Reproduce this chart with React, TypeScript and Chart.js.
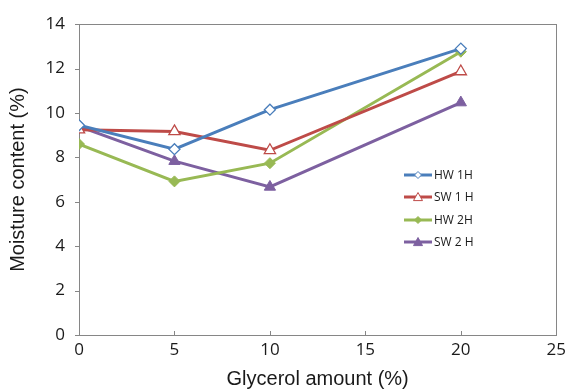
import React, { useEffect, useRef } from "react";
import { Chart, registerables } from "chart.js";

Chart.register(...registerables);

const glycerol = [0, 5, 10, 20];
const hw1h = [9.45, 8.37, 10.15, 12.9];
const sw1h = [9.25, 9.17, 8.32, 11.87];
const hw2h = [8.6, 6.92, 7.74, 12.76];
const sw2h = [9.4, 7.83, 6.67, 10.47];
const xTicks = [0, 5, 10, 15, 20, 25];
const yTicks = [0, 2, 4, 6, 8, 10, 12, 14];

const seriesNames = ["HW 1H", "SW 1 H", "HW 2H", "SW 2 H"];
const colors = ["#4A7EBB", "#BE4B48", "#98B954", "#7D60A0"];

const AXIS = "#868686";
const TICK_FONT = "'Open Sans', 'Noto Sans', sans-serif";
const TITLE_FONT = "'Liberation Sans', Arial, sans-serif";

const framePlugin = {
  id: "frame",
  beforeDatasetsDraw(chart: any) {
    const { ctx, chartArea } = chart;
    const xs = chart.scales.x;
    const ys = chart.scales.y;
    ctx.save();
    ctx.strokeStyle = AXIS;
    ctx.lineWidth = 1;
    ctx.strokeRect(
      Math.round(chartArea.left) + 0.5,
      Math.round(chartArea.top) + 0.5,
      Math.round(chartArea.right - chartArea.left),
      Math.round(chartArea.bottom - chartArea.top)
    );
    ctx.beginPath();
    yTicks.forEach((v) => {
      const y = Math.round(ys.getPixelForValue(v)) + 0.5;
      ctx.moveTo(chartArea.left - 4, y);
      ctx.lineTo(chartArea.left, y);
    });
    xTicks.forEach((v) => {
      const x = Math.round(xs.getPixelForValue(v)) + 0.5;
      ctx.moveTo(x, chartArea.bottom);
      ctx.lineTo(x, chartArea.bottom - 4);
    });
    ctx.stroke();
    ctx.restore();
  },
};

const legendPlugin = {
  id: "customLegend",
  afterDatasetsDraw(chart: any) {
    const { ctx } = chart;
    const x0 = 404;
    const rows = [175, 197, 220, 242];
    ctx.save();
    chart.data.datasets.forEach((ds: any, i: number) => {
      const y = rows[i];
      ctx.strokeStyle = ds.borderColor;
      ctx.lineWidth = 3;
      ctx.beginPath();
      ctx.moveTo(x0, y);
      ctx.lineTo(x0 + 28, y);
      ctx.stroke();
      const cx = x0 + 14;
      ctx.lineWidth = 1;
      ctx.fillStyle = ds.pointBackgroundColor;
      ctx.strokeStyle = ds.borderColor;
      ctx.beginPath();
      if (ds.pointStyle === "rectRot") {
        const r = 3.5;
        ctx.moveTo(cx, y - r);
        ctx.lineTo(cx + r, y);
        ctx.lineTo(cx, y + r);
        ctx.lineTo(cx - r, y);
      } else {
        const r = 4.5;
        ctx.moveTo(cx, y - r);
        ctx.lineTo(cx + r, y + r * 0.8);
        ctx.lineTo(cx - r, y + r * 0.8);
      }
      ctx.closePath();
      ctx.fill();
      ctx.stroke();
      ctx.fillStyle = "#1a1a1a";
      ctx.font = `12px ${TICK_FONT}`;
      ctx.textBaseline = "middle";
      ctx.textAlign = "left";
      ctx.fillText(ds.label, x0 + 30, y + 1);
    });
    ctx.restore();
  },
};

export default function App() {
  const ref = useRef<HTMLCanvasElement>(null);
  useEffect(() => {
    document.body.style.margin = "0";
    const make = (i: number, vals: number[], style: string, filled: boolean) => ({
      label: seriesNames[i],
      data: glycerol.map((g, k) => ({ x: g, y: vals[k] })),
      borderColor: colors[i],
      backgroundColor: colors[i],
      pointBackgroundColor: filled ? colors[i] : "#ffffff",
      pointBorderColor: colors[i],
      pointBorderWidth: filled ? 1 : 1.3,
      pointStyle: style,
      pointRadius: style === "triangle" ? 6.5 : 5.5,
      borderWidth: 3,
      tension: 0,
    });
    const chart = new Chart(ref.current as HTMLCanvasElement, {
      type: "line",
      data: {
        datasets: [
          make(0, hw1h, "rectRot", false),
          make(1, sw1h, "triangle", false),
          make(2, hw2h, "rectRot", true),
          make(3, sw2h, "triangle", true),
        ],
      },
      options: {
        animation: false,
        responsive: false,
        devicePixelRatio: 1,
        layout: { padding: { top: 16, right: 12, left: 0, bottom: 0 } },
        plugins: { legend: { display: false }, tooltip: { enabled: false } },
        scales: {
          x: {
            type: "linear",
            min: 0,
            max: 25,
            afterBuildTicks: (s: any) => {
              s.ticks = xTicks.map((v) => ({ value: v }));
            },
            afterFit: (s: any) => {
              s.height = 56;
            },
            grid: { display: false, drawTicks: false },
            border: { display: false },
            ticks: {
              padding: 5,
              color: "#1a1a1a",
              font: { size: 17, family: TICK_FONT },
              maxRotation: 0,
            },
            title: {
              display: true,
              text: "Glycerol amount (%)",
              color: "#1a1a1a",
              font: { size: 20, family: TITLE_FONT },
              padding: { top: 0, bottom: 0 },
            },
          },
          y: {
            min: 0,
            max: 14,
            afterBuildTicks: (s: any) => {
              s.ticks = yTicks.map((v) => ({ value: v }));
            },
            afterFit: (s: any) => {
              s.width = 79;
            },
            grid: { display: false, drawTicks: false },
            border: { display: false },
            ticks: {
              padding: 14,
              color: "#1a1a1a",
              font: { size: 17, family: TICK_FONT },
            },
            title: {
              display: true,
              text: "Moisture content (%)",
              color: "#1a1a1a",
              font: { size: 20, family: TITLE_FONT },
              padding: { top: 6, bottom: 0 },
            },
          },
        },
      },
      plugins: [framePlugin, legendPlugin],
    } as any);
    return () => chart.destroy();
  }, []);
  return (
    <div style={{ position: "absolute", left: 0, top: 0, width: 571, height: 391, background: "#fff" }}>
      <canvas ref={ref} width={571} height={391} />
    </div>
  );
}
